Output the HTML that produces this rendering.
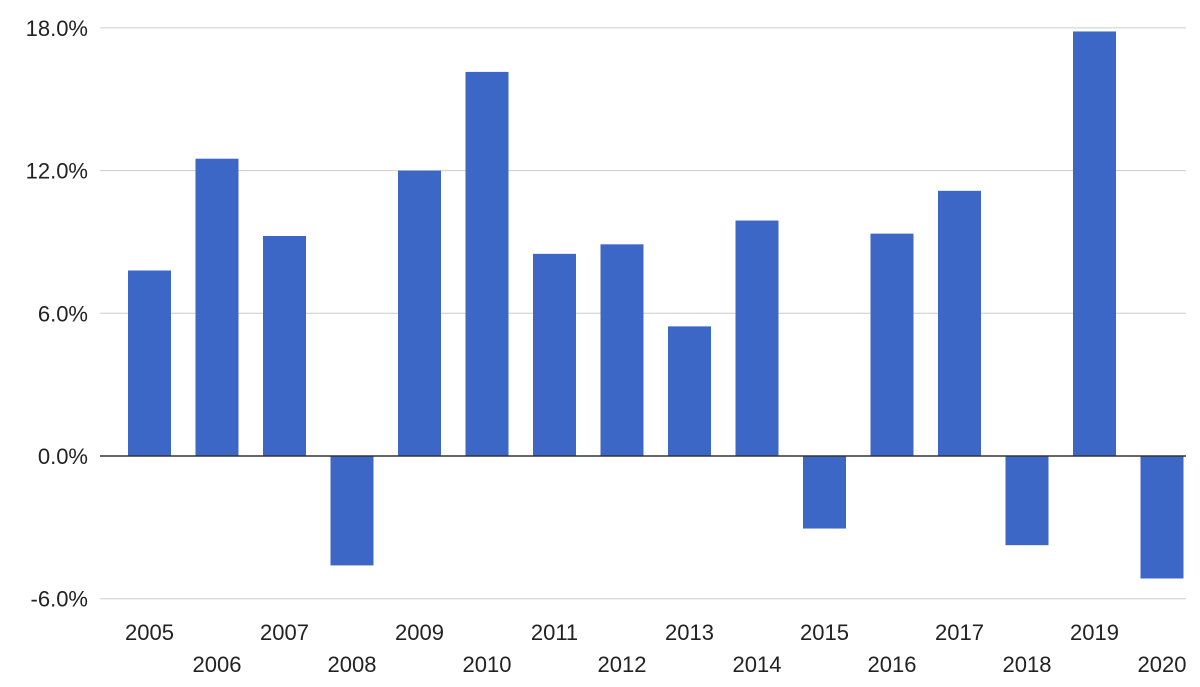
<!DOCTYPE html>
<html><head><meta charset="utf-8"><style>
body{margin:0;background:#fff;}
svg{display:block;font-family:"Liberation Sans",Arial,sans-serif;}
</style></head><body>
<svg id="chart" width="1200" height="687" viewBox="0 0 1200 687">
<g id="grid"></g>
<g id="bars"></g>
<g id="yticks"></g>
<g id="xticks"></g>
</svg>
<script>
const categories=["2005","2006","2007","2008","2009","2010","2011","2012","2013","2014","2015","2016","2017","2018","2019","2020"];
const values=[7.8,12.5,9.25,-4.6,12.0,16.15,8.5,8.9,5.45,9.9,-3.05,9.35,11.15,-3.75,17.85,-5.15];
const yTicks=[18,12,6,0,-6];
const yTickLabels=["18.0%","12.0%","6.0%","0.0%","-6.0%"];
const NS="http://www.w3.org/2000/svg";
const y0=456, pxPer=142.7/6;
function y(v){return y0-v*pxPer;}
const left=115.75, band=67.5, barW=43;
function xc(i){return left+band*(i+0.5);}
const grid=document.getElementById('grid'),bars=document.getElementById('bars'),yt=document.getElementById('yticks'),xt=document.getElementById('xticks');
yTicks.forEach((t,i)=>{
 const l=document.createElementNS(NS,'line');
 
 
 l.setAttribute('x1',100);l.setAttribute('x2',1186);l.setAttribute('y1',y(t));l.setAttribute('y2',y(t));
 l.setAttribute('stroke',t===0?'#333':'#ccc');l.setAttribute('stroke-width',t===0?1.5:1);
 grid.appendChild(l);
 const tx=document.createElementNS(NS,'text');
 
 
 tx.setAttribute('x',88);tx.setAttribute('y',y(t)+8);tx.setAttribute('text-anchor','end');
 tx.setAttribute('font-size','22');tx.setAttribute('fill','#222');
 tx.textContent=yTickLabels[i];yt.appendChild(tx);
});
categories.forEach((c,i)=>{
 const v=values[i];
 const r=document.createElementNS(NS,'rect');
 
 
 r.setAttribute('x',xc(i)-barW/2);r.setAttribute('width',barW);
 r.setAttribute('y',Math.min(y(v),y0));r.setAttribute('height',Math.abs(y(v)-y0));
 r.setAttribute('fill','#3d67c6');bars.appendChild(r);
 const tx=document.createElementNS(NS,'text');
 
 
 tx.setAttribute('x',xc(i));tx.setAttribute('y',i%2===0?640:672);tx.setAttribute('text-anchor','middle');
 tx.setAttribute('font-size','22');tx.setAttribute('fill','#222');
 tx.textContent=c;xt.appendChild(tx);
});
grid.parentNode.insertBefore(bars,grid.nextSibling);
const zero=[...grid.children][3];grid.parentNode.appendChild(zero);
</script>
</body></html>
